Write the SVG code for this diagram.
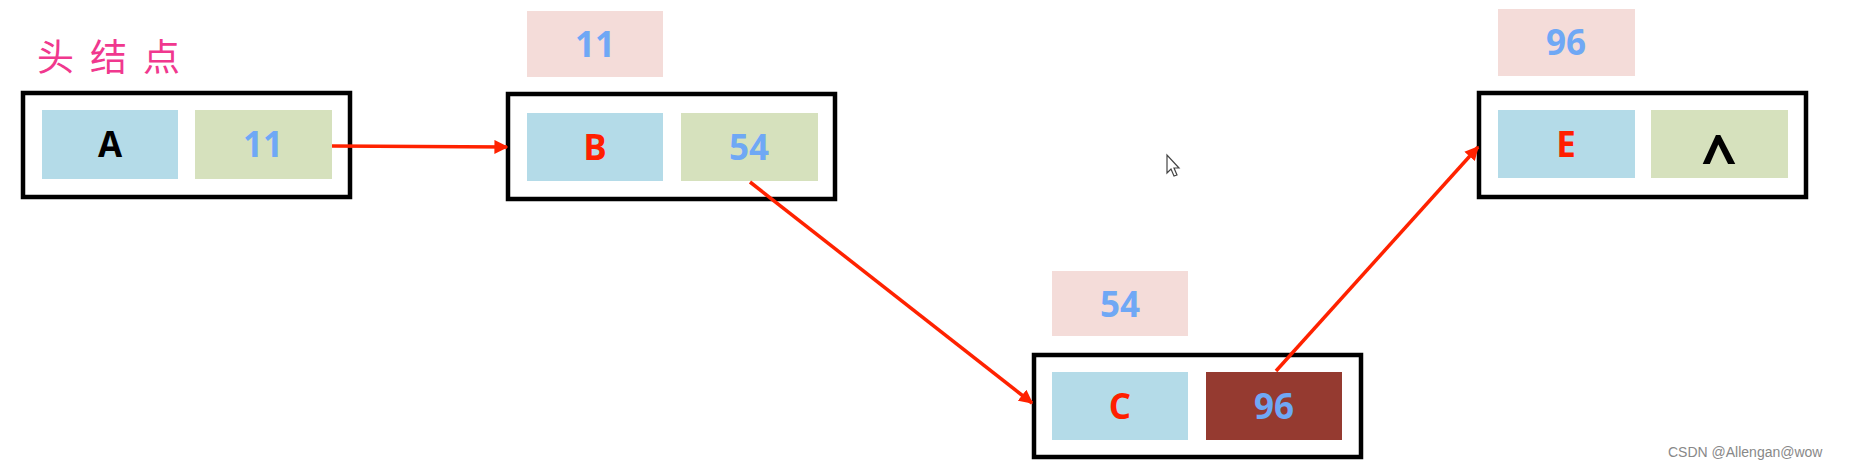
<svg xmlns="http://www.w3.org/2000/svg" width="1863" height="472" viewBox="0 0 1863 472">
<defs>
<style>
.outer{fill:#fff;stroke:#000;stroke-width:4.5}
.data{fill:#b4dbe8}
.next{fill:#d6e1bd}
.addr{fill:#f4dcd9}
.hot{fill:#953a30}
.t{font-family:"Open Sans","Liberation Sans",sans-serif;font-weight:bold;font-size:35px;text-anchor:middle}
.blue{fill:#6fa8f5}
.red{fill:#ff1f00}
.blk{fill:#000}
.conn{stroke:#ff2200;stroke-width:3.5;fill:none;marker-end:url(#ah)}
</style>
<marker id="ah" viewBox="0 0 10 10" refX="9" refY="5" markerWidth="4" markerHeight="4" orient="auto" markerUnits="strokeWidth">
<path d="M0,0 L10,5 L0,10 z" fill="#ff2200"/>
</marker>
</defs>
<rect width="1863" height="472" fill="#fff"/>
<text x="37" y="71" font-family="'Noto Sans CJK SC',sans-serif" font-size="37" fill="#f0388e" letter-spacing="16">头结点</text>
<g id="nodeA">
<rect class="outer" x="23" y="93" width="327" height="104"/>
<rect class="data" x="42" y="110" width="136" height="69"/>
<rect class="next" x="195" y="110" width="137" height="69"/>
<text class="t blk" x="110" y="157">A</text>
<text class="t blue" x="263" y="157">11</text>
</g>
<g id="nodeB">
<rect class="addr" x="527" y="11" width="136" height="66"/>
<text class="t blue" x="595" y="57">11</text>
<rect class="outer" x="508" y="94" width="327" height="105"/>
<rect class="data" x="527" y="113" width="136" height="68"/>
<rect class="next" x="681" y="113" width="137" height="68"/>
<text class="t red" x="595" y="160">B</text>
<text class="t blue" x="749" y="160">54</text>
</g>
<g id="nodeC">
<rect class="addr" x="1052" y="271" width="136" height="65"/>
<text class="t blue" x="1120" y="317">54</text>
<rect class="outer" x="1034" y="355" width="327" height="102"/>
<rect class="data" x="1052" y="372" width="136" height="68"/>
<rect class="hot" x="1206" y="372" width="136" height="68"/>
<text class="t red" x="1120" y="419">C</text>
<text class="t blue" x="1274" y="419">96</text>
</g>
<g id="nodeE">
<rect class="addr" x="1498" y="9" width="137" height="67"/>
<text class="t blue" x="1566" y="55">96</text>
<rect class="outer" x="1479" y="93" width="327" height="104"/>
<rect class="data" x="1498" y="110" width="137" height="68"/>
<rect class="next" x="1651" y="110" width="137" height="68"/>
<text class="t red" x="1566" y="157">E</text>
<text class="t blk" x="1719" y="180" style="font-size:62px">^</text>
</g>
<g id="connectors">
<line class="conn" x1="332" y1="146" x2="507" y2="147"/>
<line class="conn" x1="750" y1="182" x2="1032" y2="403"/>
<line class="conn" x1="1276" y1="371" x2="1478" y2="147"/>
</g>
<path d="M1167,155 L1167,173 L1171,169 L1174,176 L1177,175 L1174,168 L1179,168 Z" fill="#fff" stroke="#444" stroke-width="1.2"/>
<text x="1668" y="457" font-family="'Liberation Sans',sans-serif" font-size="14" fill="#888">CSDN @Allengan@wow</text>
</svg>
